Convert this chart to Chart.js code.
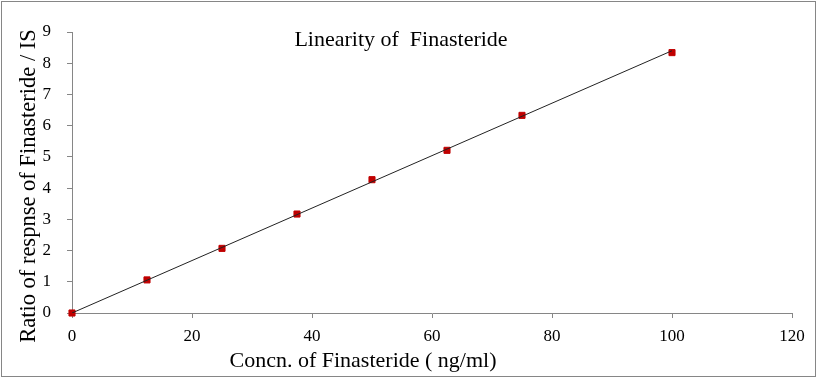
<!DOCTYPE html>
<html>
<head>
<meta charset="utf-8">
<script src="https://cdn.jsdelivr.net/npm/chart.js@4/dist/chart.umd.min.js"></script>
<style>
  html, body { margin: 0; padding: 0; background: #fff; }
  canvas { display: block; }
</style>
</head>
<body>
<canvas id="chart" width="819" height="380"></canvas>
<script>
// Concentration (ng/ml) and response ratio
const concX = [0, 12.5, 25, 37.5, 50, 62.5, 75, 100];
const ratioY = [0, 1.06, 2.07, 3.17, 4.27, 5.21, 6.33, 8.34];
// Linear trend line end points
const trendX = [0, 100];
const trendY = [0, 8.40];

const xTicks = [0, 20, 40, 60, 80, 100, 120];
const yTicks = [0, 1, 2, 3, 4, 5, 6, 7, 8, 9];

const TITLE = "Linearity of  Finasteride";
const X_TITLE = "Concn. of Finasteride ( ng/ml)";
const Y_TITLE = "Ratio of respnse of Finasteride / IS";

const SERIF = "'Liberation Serif', 'DejaVu Serif', serif";
const AXIS_GREY = "#868686";
const MARK_RED = "#c00000";

// Excel places the titles by hand, so draw them ourselves.
const textPlugin = {
    id: "excelText",
    beforeDraw(chart) {
        const ctx = chart.ctx;
        ctx.save();
        ctx.strokeStyle = AXIS_GREY;
        ctx.lineWidth = 1;
        ctx.strokeRect(1.5, 1.5, 814, 375);
        ctx.restore();
    },
    afterDraw(chart) {
        const ctx = chart.ctx;
        ctx.save();
        ctx.fillStyle = "#000";
        ctx.font = "22px " + SERIF;
        ctx.textAlign = "center";
        ctx.textBaseline = "alphabetic";
        ctx.fillText(TITLE, 401, 46);
        ctx.fillText(X_TITLE, 363, 367);
        ctx.translate(35, 186);
        ctx.rotate(-Math.PI / 2);
        ctx.font = "22.5px " + SERIF;
        ctx.fillText(Y_TITLE, 0, 0);
        ctx.restore();
    },
};

const toPoints = (xs, ys) => xs.map((x, i) => ({ x, y: ys[i] }));

new Chart(document.getElementById("chart"), {
    type: "scatter",
    data: {
        datasets: [
            {
                type: "line",
                data: toPoints(trendX, trendY),
                borderColor: "#222",
                borderWidth: 1,
                pointRadius: 0,
                fill: false,
                order: 0,
            },
            {
                data: toPoints(concX, ratioY),
                pointStyle: "rect",
                pointRadius: 4.3,
                backgroundColor: MARK_RED,
                borderColor: MARK_RED,
                borderWidth: 1,
                clip: false,
                order: 1,
            },
        ],
    },
    options: {
        responsive: false,
        animation: false,
        layout: { padding: { left: 0, right: 27, top: 32, bottom: 0 } },
        plugins: {
            legend: { display: false },
            tooltip: { enabled: false },
        },
        scales: {
            x: {
                type: "linear",
                min: 0,
                max: 120,
                afterFit: (s) => { s.height = 67; },
                afterBuildTicks: (s) => { s.ticks = xTicks.map((v) => ({ value: v })); },
                grid: { drawOnChartArea: false, tickLength: 5, color: AXIS_GREY },
                border: { color: AXIS_GREY },
                ticks: { color: "#000", padding: 8, font: { family: SERIF, size: 17 } },
            },
            y: {
                type: "linear",
                min: 0,
                max: 9,
                afterFit: (s) => { s.width = 72; },
                afterBuildTicks: (s) => { s.ticks = yTicks.map((v) => ({ value: v })); },
                grid: { drawOnChartArea: false, tickLength: 5, color: AXIS_GREY },
                border: { color: AXIS_GREY },
                ticks: { color: "#000", padding: 16, font: { family: SERIF, size: 17 } },
            },
        },
    },
    plugins: [textPlugin],
});
</script>
</body>
</html>
